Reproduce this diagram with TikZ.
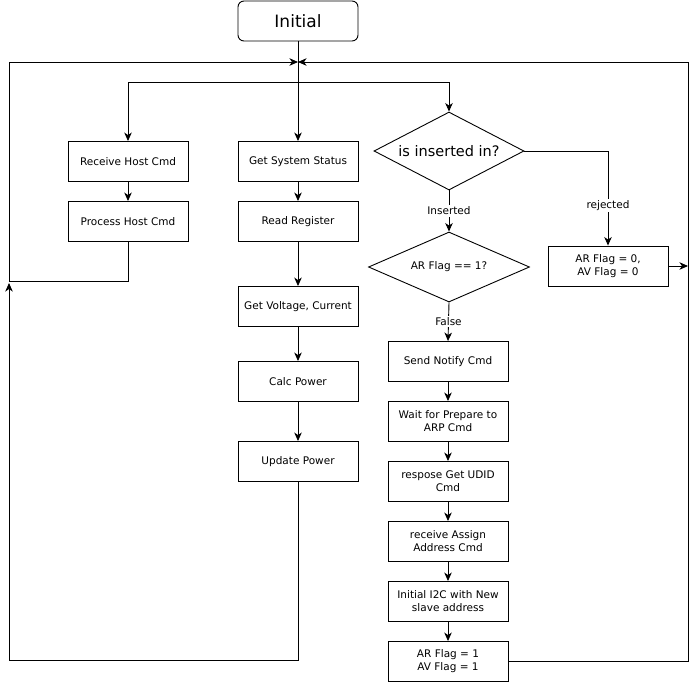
\documentclass[tikz,border=0pt]{standalone}
\usepackage{fontspec}
\setmainfont{DejaVu Sans}
\usetikzlibrary{arrows.meta,shapes.geometric}
\begin{document}
\begin{tikzpicture}[x=1pt,y=-1pt,
  line width=0.9pt,
  box/.style={draw,rectangle,minimum width=120pt,minimum height=40pt,inner sep=1pt,align=center,font=\fontsize{10.5}{13}\selectfont},
  dia/.style={draw,diamond,inner sep=0pt,align=center},
  arr/.style={-{Stealth[length=8.5pt,width=7.5pt,inset=2.5pt]}},
  lab/.style={fill=white,inner sep=1.5pt,font=\fontsize{10.5}{13}\selectfont}]
\useasboundingbox (0,0) rectangle (699,683);
% nodes
\node[draw,rounded corners=6pt,minimum width=120pt,minimum height=40pt,inner sep=1pt,font=\fontsize{17}{20}\selectfont] (init) at (298,21) {Initial};
\node[box] (rhc) at (128,161.5) {Receive Host Cmd};
\node[box] (phc) at (128,221.5) {Process Host Cmd};
\node[box] (gss) at (298,161.5) {Get System Status};
\node[box] (rr)  at (298,221.5) {Read Register};
\node[box] (gvc) at (298,306.5) {Get Voltage, Current};
\node[box] (cp)  at (298,381.5) {Calc Power};
\node[box] (up)  at (298,461.5) {Update Power};
\node[dia,minimum width=150pt,minimum height=78pt,aspect=1.9,font=\fontsize{14.5}{17}\selectfont] (d1) at (449,151) {is inserted in?};
\node[dia,minimum width=161pt,minimum height=70pt,aspect=2.3,font=\fontsize{10.5}{13}\selectfont] (d2) at (449,267) {AR Flag == 1?};
\node[box] (ar0) at (608,266) {AR Flag = 0,\\AV Flag = 0};
\node[box] (sn)  at (448,361.5) {Send Notify Cmd};
\node[box] (wp)  at (448,421.5) {Wait for Prepare to\\ARP Cmd};
\node[box] (rg)  at (448,481.5) {respose Get UDID\\Cmd};
\node[box] (ra)  at (448,541.5) {receive Assign\\Address Cmd};
\node[box] (i2c) at (448,601.5) {Initial I2C with New\\slave address};
\node[box] (ar1) at (448,661.5) {AR Flag = 1\\AV Flag = 1};
% helper coordinates
\coordinate (m) at (298,62);
\coordinate (br) at (298,82);
\coordinate (cL1) at (9,281);
\coordinate (cTL) at (9,62);
\coordinate (cBL) at (9,660);
\coordinate (cLup) at (9,283);
\coordinate (cTR) at (688,62);
% connectors
\draw[arr] (init.south) -- (gss.north);
\draw[arr] (br) -| (rhc.north);
\draw[arr] (br) -| (d1.north);
\draw[arr] (rhc) -- (phc);
\draw[arr] (phc.south) |- (cL1) -- (cTL) -- (m);
\draw[arr] (gss) -- (rr);
\draw[arr] (rr) -- (gvc);
\draw[arr] (gvc) -- (cp);
\draw[arr] (cp) -- (up);
\draw[arr] (up.south) |- (cBL) -- (cLup);
\draw[arr] (d1.south) -- node[lab]{Inserted} (d2.north);
\draw[arr] (d1.east) -| node[lab,pos=0.79]{rejected} (ar0.north);
\draw[arr] (d2.south) -- node[lab]{False} (sn.north);
\draw[arr] (sn) -- (wp);
\draw[arr] (wp) -- (rg);
\draw[arr] (rg) -- (ra);
\draw[arr] (ra) -- (i2c);
\draw[arr] (i2c) -- (ar1);
\draw[arr] (ar1.east) -| (cTR) -- (m);
\draw[arr] (ar0.east) -- (ar0.east -| cTR);
\end{tikzpicture}
\end{document}
